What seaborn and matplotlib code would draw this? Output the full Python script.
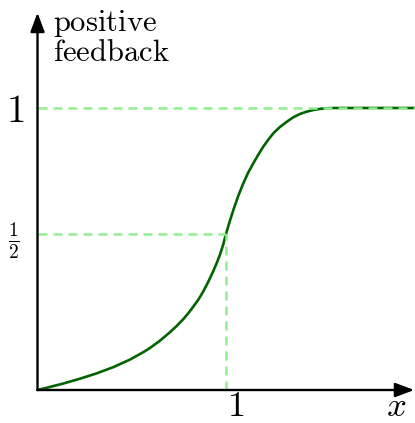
import matplotlib
matplotlib.use("Agg")
import matplotlib.pyplot as plt
import seaborn as sns
import pandas as pd

# Response curve of a positive-feedback element
curve_x = [0.0, 0.049, 0.137, 0.225, 0.314, 0.402, 0.491, 0.561, 0.597, 0.650,
           0.703, 0.740, 0.773, 0.800, 0.827, 0.855, 0.880, 0.907, 0.933, 0.952,
           0.968, 0.985, 1.0, 1.020, 1.039, 1.065, 1.092, 1.118, 1.145, 1.172,
           1.198, 1.225, 1.251, 1.285, 1.322, 1.357, 1.393, 1.428, 1.463, 1.500,
           1.534, 1.570, 1.6, 2.0]
curve_y = [0.0, 0.008, 0.023, 0.040, 0.059, 0.081, 0.108, 0.134, 0.149, 0.175,
           0.205, 0.228, 0.251, 0.272, 0.296, 0.322, 0.350, 0.385, 0.422, 0.452,
           0.480, 0.515, 0.553, 0.598, 0.638, 0.688, 0.733, 0.771, 0.804, 0.835,
           0.863, 0.888, 0.910, 0.932, 0.951, 0.967, 0.979, 0.987, 0.993, 0.997,
           0.999, 1.0, 1.0, 1.0]

# Reference levels and their labels
top_level = 1.0
half_level = 0.553
half_x = 1.0
y_tick_labels = ["$1$", r"$\frac{1}{2}$"]
x_tick_label = "$1$"
x_axis_label = "$x$"
y_axis_label = [r"$\mathrm{positive}$", r"$\mathrm{feedback}$"]

sns.set_theme(style="white")
plt.rcParams["mathtext.fontset"] = "cm"
plt.rcParams["text.color"] = "black"

fig = plt.figure(figsize=(4.15, 4.23), dpi=100)
ax = fig.add_axes([0, 0, 1, 1])
ax.set_xlim(-0.199, 2.003)
ax.set_ylim(-0.117, 1.383)
ax.axis("off")

df = pd.DataFrame({"x": curve_x, "y": curve_y})
sns.lineplot(data=df, x="x", y="y", ax=ax, color="#006400", linewidth=1.9,
             estimator=None, sort=False, zorder=2)

dash = (0, (3.6, 2.4))
light = "#90EE90"
ax.plot([0, 2.003], [top_level, top_level], color=light, lw=1.8, ls=dash, zorder=3)
ax.plot([0, half_x], [half_level, half_level], color=light, lw=1.8, ls=dash, zorder=3)
ax.plot([half_x, half_x], [0, half_level], color=light, lw=1.8, ls=dash, zorder=3)

# Axes with arrow heads
arrow = dict(arrowstyle="-|>,head_length=1.15,head_width=0.43", lw=1.7,
             color="black", shrinkA=0, shrinkB=0, mutation_scale=10)
ax.annotate("", xy=(1.999, 0), xytext=(0, 0), arrowprops=arrow,
            annotation_clip=False, zorder=4)
ax.annotate("", xy=(0, 1.338), xytext=(0, 0), arrowprops=arrow,
            annotation_clip=False, zorder=4)

# Labels
ax.text(-0.119, 0.989, y_tick_labels[0], fontsize=28, ha="center", va="center")
ax.text(-0.125, 0.528, y_tick_labels[1], fontsize=20, ha="center", va="center")
ax.text(1.053, -0.058, x_tick_label, fontsize=26, ha="center", va="center")
ax.text(1.902, -0.058, x_axis_label, fontsize=25, ha="center", va="center")
ax.text(0.082, 1.274, y_axis_label[0], fontsize=22, ha="left", va="baseline")
ax.text(0.082, 1.167, y_axis_label[1], fontsize=22, ha="left", va="baseline")

fig.savefig("out.png", dpi=100)
